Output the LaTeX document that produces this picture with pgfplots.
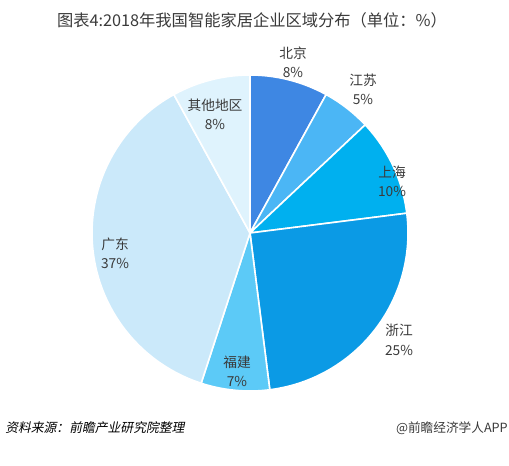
\documentclass[border=0pt]{standalone}
\usepackage{pgfplots}
\pgfplotsset{compat=1.18}
\usepackage{pgfplotstable}
\usepackage{fontspec}
\setmainfont{Noto Sans CJK SC}
\newfontfamily\srcfont[FakeSlant=0.2]{Noto Sans CJK SC}
\definecolor{slice0}{HTML}{3E87E3}
\definecolor{slice1}{HTML}{4BB6F5}
\definecolor{slice2}{HTML}{00B0EF}
\definecolor{slice3}{HTML}{0B9AE5}
\definecolor{slice4}{HTML}{5CCAF7}
\definecolor{slice5}{HTML}{CBE9FA}
\definecolor{slice6}{HTML}{DFF3FD}
\definecolor{labelc}{HTML}{3A3A3A}
\newcommand\labelfont{\fontsize{10.3}{14.5}\selectfont}
\pgfplotstableread{
name value lx ly
北京 8 293 404
江苏 5 363 377
上海 10 392 285
浙江 25 399 126
福建 7 237 94.5
广东 37 115 212.5
其他地区 8 215 351.5
}\piedata
\begin{document}
\begin{tikzpicture}
\begin{axis}[scale only axis, width=381.75pt, height=349.5pt, at={(0,0)}, anchor=south west,
  xmin=0, xmax=509, ymin=0, ymax=466, hide axis, clip=false]
\def\cum{0}
\pgfplotsforeachungrouped \i in {0,...,6}{%
  \pgfplotstablegetelem{\i}{value}\of\piedata \let\val\pgfplotsretval
  \pgfmathsetmacro\angA{90-3.6*\cum}%
  \pgfmathsetmacro\angB{90-3.6*(\cum+\val)}%
  \pgfmathsetmacro\cum{\cum+\val}%
  \edef\temp{\noexpand\addplot[fill=slice\i, draw=white, line width=1.2pt, domain=\angB:\angA, samples=80, variable=\noexpand\t] ({250+158*cos(\noexpand\t)},{233+158*sin(\noexpand\t)}) -- (axis cs:250,233) -- cycle;}%
  \temp
}
\pgfplotsforeachungrouped \i in {0,...,6}{%
  \pgfplotstablegetelem{\i}{value}\of\piedata \let\val\pgfplotsretval
  \pgfplotstablegetelem{\i}{name}\of\piedata \let\nm\pgfplotsretval
  \pgfplotstablegetelem{\i}{lx}\of\piedata \let\lx\pgfplotsretval
  \pgfplotstablegetelem{\i}{ly}\of\piedata \let\ly\pgfplotsretval
  \edef\temp{\noexpand\node[align=center, text=labelc, font=\noexpand\labelfont, inner sep=0pt] at (axis cs:\lx,\ly) {\nm\noexpand\\\val\noexpand\%};}%
  \temp
}
\node[text=labelc, font=\fontsize{12.2}{14}\selectfont, inner sep=0pt] at (axis cs:252,446) {图表4:2018年我国智能家居企业区域分布（单位：\%）};
\node[anchor=west, text=black, font=\srcfont\fontsize{9.6}{11}\selectfont, inner sep=0pt] at (axis cs:5,38) {资料来源：前瞻产业研究院整理};
\node[anchor=east, text=labelc, font=\fontsize{9.5}{11}\selectfont, inner sep=0pt] at (axis cs:508,38) {@前瞻经济学人APP};
\end{axis}
\pgfresetboundingbox
\useasboundingbox (0,0) rectangle (381.75pt,349.5pt);
\end{tikzpicture}
\end{document}
